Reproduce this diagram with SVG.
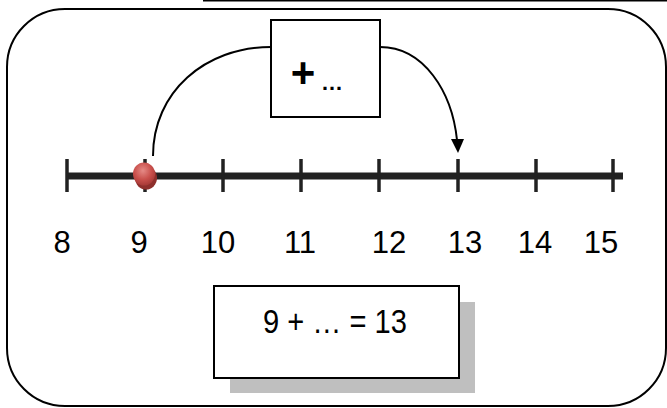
<svg xmlns="http://www.w3.org/2000/svg" width="667" height="408" viewBox="0 0 667 408">
  <style>
    .frame { fill: none; stroke: #000; stroke-width: 2; }
    .box { fill: #fff; stroke: #000; stroke-width: 2; }
    .conn { fill: none; stroke: #000; stroke-width: 2; }
    .tick { stroke: #222; stroke-width: 3.5; }
    .num { font-family: "Liberation Sans", Arial, sans-serif; font-size: 31px; fill: #000; text-anchor: middle; }
    .eq { font-family: "Liberation Sans", Arial, sans-serif; font-size: 33px; fill: #000; text-anchor: middle; }
  </style>
  <defs>
    <radialGradient id="red" cx="0.45" cy="0.35" r="0.65">
      <stop offset="0" stop-color="#e58a86"/>
      <stop offset="0.6" stop-color="#c9504c"/>
      <stop offset="1" stop-color="#a83a37"/>
    </radialGradient>
  </defs>

  <rect width="667" height="408" fill="#fff"/>
  <line x1="203" y1="0.75" x2="667" y2="0.75" stroke="#000" stroke-width="1.5"/>

  <g id="frame">
    <rect class="frame" x="7" y="9" width="659" height="397" rx="58" ry="58"/>
  </g>

  <g id="numberline">
    <line x1="66" y1="176" x2="623" y2="176" stroke="#222" stroke-width="7"/>
    <line class="tick" x1="67" y1="159" x2="67" y2="192"/>
    <line class="tick" x1="145" y1="159" x2="145" y2="192"/>
    <line class="tick" x1="223" y1="159" x2="223" y2="192"/>
    <line class="tick" x1="301" y1="159" x2="301" y2="192"/>
    <line class="tick" x1="379" y1="159" x2="379" y2="192"/>
    <line class="tick" x1="458" y1="159" x2="458" y2="192"/>
    <line class="tick" x1="536" y1="159" x2="536" y2="192"/>
    <line class="tick" x1="613" y1="159" x2="613" y2="192"/>
    <text class="num" x="62" y="253">8</text>
    <text class="num" x="139" y="253">9</text>
    <text class="num" x="218" y="253">10</text>
    <text class="num" x="300" y="253">11</text>
    <text class="num" x="389" y="253">12</text>
    <text class="num" x="465" y="253">13</text>
    <text class="num" x="535" y="253">14</text>
    <text class="num" x="601" y="253">15</text>
  </g>

  <g id="marker-9">
    <ellipse cx="146" cy="178" rx="11" ry="11.5" fill="#8e2f2c"/>
    <ellipse cx="144" cy="174" rx="11" ry="11.5" fill="url(#red)"/>
  </g>

  <g id="connectors">
    <path class="conn" d="M271,47 C205,47 153,92 153,156"/>
    <path class="conn" d="M380,47 C424,47 452,92 457,140"/>
    <path d="M451,139 L464,139 L458,153 Z" fill="#000"/>
  </g>

  <g id="plus-box">
    <rect class="box" x="271" y="20" width="109" height="97"/>
    <text x="303" y="87" font-family="Liberation Sans, Arial, sans-serif" font-size="42" font-weight="bold" text-anchor="middle">+</text>
    <text x="321" y="90" font-family="Liberation Sans, Arial, sans-serif" font-size="22" font-weight="bold">…</text>
  </g>

  <g id="equation-box">
    <rect x="230" y="302" width="245" height="91" fill="#bfbfbf"/>
    <rect class="box" x="214" y="286" width="245" height="92"/>
    <text class="eq" x="335" y="333" textLength="144" lengthAdjust="spacingAndGlyphs">9 + … = 13</text>
  </g>
</svg>
